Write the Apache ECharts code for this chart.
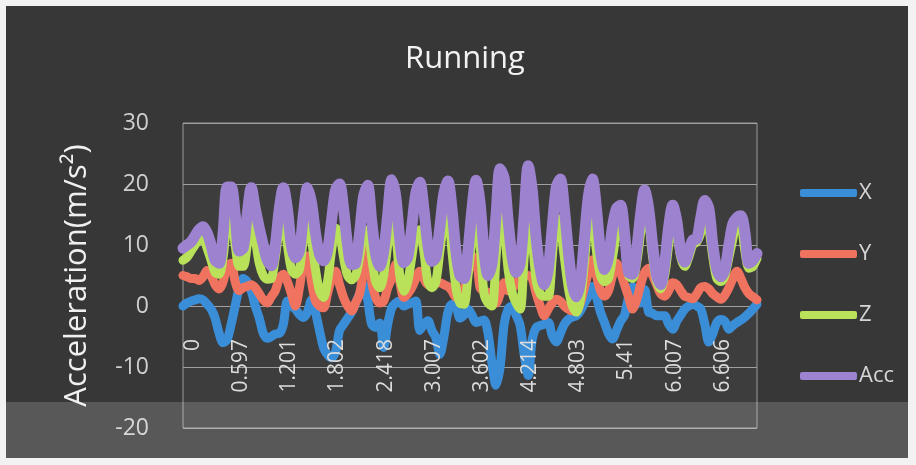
<!DOCTYPE html>
<html>
<head>
<meta charset="utf-8">
<script src="https://cdn.jsdelivr.net/npm/echarts@6/dist/echarts.min.js"></script>
<style>
html,body{margin:0;padding:0;background:#f2f2f2;}
#chart{width:916px;height:465px;}
</style>
</head>
<body>
<div id="chart"></div>
<script>
// Time stamps (s) – category axis
const times = [
  0, 0.05, 0.1, 0.149, 0.199, 0.249, 0.298, 0.348, 0.398, 0.448, 0.497, 0.547,
  0.597, 0.647, 0.698, 0.748, 0.798, 0.849, 0.899, 0.949, 1.0, 1.05, 1.1, 1.151,
  1.201, 1.251, 1.301, 1.351, 1.401, 1.451, 1.501, 1.552, 1.602, 1.652, 1.702, 1.752,
  1.802, 1.853, 1.904, 1.956, 2.007, 2.058, 2.11, 2.161, 2.212, 2.264, 2.315, 2.367,
  2.418, 2.467, 2.516, 2.565, 2.614, 2.663, 2.712, 2.762, 2.811, 2.86, 2.909, 2.958,
  3.007, 3.057, 3.106, 3.156, 3.206, 3.255, 3.305, 3.354, 3.404, 3.454, 3.503, 3.553,
  3.602, 3.653, 3.704, 3.755, 3.806, 3.857, 3.908, 3.959, 4.01, 4.061, 4.112, 4.163,
  4.214, 4.263, 4.312, 4.361, 4.41, 4.459, 4.508, 4.558, 4.607, 4.656, 4.705, 4.754,
  4.803, 4.854, 4.904, 4.955, 5.005, 5.056, 5.107, 5.157, 5.208, 5.258, 5.309, 5.359,
  5.41, 5.46, 5.509, 5.559, 5.609, 5.659, 5.708, 5.758, 5.808, 5.858, 5.907, 5.957,
  6.007, 6.057, 6.107, 6.157, 6.207, 6.257, 6.307, 6.356, 6.406, 6.456, 6.506, 6.556,
  6.606, 6.656, 6.706, 6.756, 6.806, 6.856, 6.906, 6.956, 7.006, 7.056, 7.106, 7.156
];

const seriesNames = ['X', 'Y', 'Z', 'Acc'];

const xVals = [
  0, 0.5, 0.8, 1, 1.2, 1, 0.3, -0.5, -2, -4.5, -6, -5.5,
  -3, 0, 3, 4.5, 4, 2.5, 0, -2, -4.5, -5.3, -5, -4.6,
  -4.5, -3, 0.8, 0, -0.5, -1.4, -1.9, -1, 1, -1, -4, -6.8,
  -8, -8.5, -7.5, -4, -3, -2, -1, 0.5, 2, 3.5, 1, -3,
  -3.5, -2.8, -6.8, -3, -0.3, 0.5, 0.8, 0, 0.3, 0.5, 0.8, -4,
  -3, -2.4, -4, -5.2, -7.9, -5, -1, 0.3, 0, -2, -1.5, -0.5,
  -1.5, -2.7, -2.5, -2.3, -4.5, -9.5, -13, -10, -3, -0.5, 0, -1.5,
  -3.2, -8, -11.4, -5.5, -3.5, -3.2, -3, -2.7, -4.9, -5.9, -4.5, -3,
  -2.2, -1.8, -1.6, -0.8, 0.5, 1.6, 3.2, 1.5, -1, -2.7, -4.5, -5.4,
  -4, -2.5, -1.5, 1.5, 3.2, 0.5, 0.5, 2.7, -1, -1.2, -1.6, -1.6,
  -1.6, -3, -3.8, -2.5, -1.5, -0.5, 0, 0.3, 0, -0.5, -3, -5.9,
  -4.5, -2.7, -2.2, -2.5, -3.8, -3.2, -2.7, -2.3, -1.8, -1.2, -0.5, 0.3
];

const yVals = [
  5, 4.8, 4.5, 4.5, 4.2, 4.8, 5.8, 5, 3.5, 2.8, 4, 6.5,
  7, 4, 2.5, 3, 3.2, 3.5, 3, 2, 1, 0.5, 1.5, 2.5,
  4.5, 5.2, 4, 2, 0, 3, 7, 8.2, 4, 0.8, 0, -0.3,
  2, 4.5, 5.7, 3.5, 1.4, 0, -0.8, 0.5, 2, 6, 9.5, 4,
  1.4, 0.5, 0.8, 3, 4.6, 6.8, 4, 1.4, 2, 3, 4.5, 5.7,
  4.5, 3.5, 3.6, 3.8, 3.8, 3.5, 3.2, 2.5, 1.4, 2, 3, 5.5,
  7, 8, 3, 2.5, 2.2, 1.5, 0.5, 2, 3.8, 2.5, 2.8, 3.8,
  4.5, 4.9, 5, 4.5, 2, 0, -1.6, -0.5, 0.5, 1.1, 0.8, 0,
  -0.5, -0.8, -0.8, 0.5, 3, 5.5, 7.6, 5, 2.5, 1.6, 2.5, 5,
  7, 5.5, 3.5, 1.5, -0.5, 1, 3.5, 5.5, 6.2, 5, 3.5, 2,
  1.6, 2.5, 3.8, 3.5, 2.5, 1.6, 1.4, 1.2, 2, 3, 3.2, 2.8,
  2, 1.5, 1.1, 1.8, 3, 4.5, 5.7, 4.5, 3, 2, 1.5, 1
];

const zVals = [
  7.5, 8, 9, 10, 10.8, 11, 9.5, 7.5, 5.5, 5.2, 8, 13.5,
  14, 10, 6.5, 6.5, 10, 14, 11, 7, 5, 4.4, 4.5, 8,
  12.5, 14, 10, 6, 5.2, 6, 11, 14, 11, 6, 2.5, 1.4,
  4, 9, 12.8, 12, 8, 5, 4.3, 5, 8, 12, 12.5, 8,
  4, 3, 5, 10, 15, 12, 5, 2.4, 4, 8, 12, 12.5,
  9, 4, 3, 4, 9, 13.5, 15, 9, 3, 0.5, 0.3, 5,
  11, 15, 10, 2, 0.5, 0, 8, 16, 13, 6, 2.2, 0.5,
  -0.5, 8, 14, 11, 4, 2, 1.6, 1.6, 8, 14.5, 13, 8,
  3, 0, -1, 1, 7, 13.5, 14.5, 9, 5, 4, 4.5, 8,
  12, 15.5, 11, 5, 4.5, 7, 12, 17, 14, 8, 4, 2.8,
  5, 10, 15, 12, 8, 6.5, 8, 10, 10.5, 12, 16.5, 13,
  8, 4.5, 4, 5, 8, 11, 14, 13.5, 9, 6.2, 6.5, 7.8
];

const accVals = [
  9.5, 10, 10.5, 11.5, 12.5, 13, 12, 10, 7.5, 7, 12, 19.5,
  19.5, 15, 9, 9.5, 15, 19.4, 16, 12.8, 10, 7.5, 6.6, 10,
  16, 19.4, 16, 10, 7.9, 9, 15, 19.4, 17, 12, 8.5, 7.4,
  9, 14, 19, 20, 16, 10, 6.8, 7, 12, 18, 19.8, 14,
  8.5, 6.5, 9, 15, 20.7, 18, 11, 7.1, 8, 13, 18.5, 20.3,
  16, 10, 7.3, 8, 13, 18.5, 20.5, 16, 9, 5, 4.5, 9,
  16, 20.6, 17, 9, 5, 7, 15, 22.5, 21, 14, 8, 5.5,
  7, 15, 23, 19, 11, 6, 3.5, 6, 13, 19.5, 20.8, 16,
  9, 3.5, 1.5, 4, 11, 18, 20.8, 16, 9, 6, 8, 13,
  16, 16.5, 12, 5.5, 5.2, 9, 15, 19, 16, 10, 5, 3.5,
  7, 13, 16.5, 14, 9, 7.2, 9, 10.8, 11, 14.5, 17.3, 16,
  10, 6, 4.8, 6, 10, 13.5, 14.5, 14.8, 12, 7, 7.5, 8.6
];

const yTicks = { min: -20, max: 30, interval: 10 };
const colors = ['#3a8ed8', '#f0735f', '#b9e25a', '#9d82cf'];

const chart = echarts.init(document.getElementById('chart'), null, { renderer: 'canvas' });

const mkSeries = (name, data, color, z, width) => ({
  name, type: 'line', data, smooth: 0.3, showSymbol: false, symbol: 'none',
  z,
  lineStyle: { color, width, cap: 'round', join: 'round' },
  itemStyle: { color },
  emphasis: { disabled: true }
});

chart.setOption({
  animation: false,
  backgroundColor: '#f2f2f2',
  graphic: [
    { type: 'rect', z: -100, silent: true, shape: { x: 6, y: 6, width: 902, height: 452 }, style: { fill: '#373737' } },
    { type: 'rect', z: -99, silent: true, shape: { x: 183, y: 123, width: 574, height: 305 }, style: { fill: '#3d3d3d' } },
    { type: 'rect', z: 100, silent: true, shape: { x: 6, y: 402, width: 902, height: 56 }, style: { fill: 'rgba(255,255,255,0.17)' } }
  ],
  title: {
    text: 'Running', left: 400, top: 39,
    textStyle: { color: '#f2f2f2', fontSize: 31, fontWeight: 'normal', fontFamily: 'Open Sans' }
  },
  legend: {
    orient: 'vertical', left: 795, top: 176, itemGap: 37,
    itemWidth: 57, itemHeight: 8, icon: 'roundRect',
    data: seriesNames,
    textStyle: { color: '#d6d6d6', fontSize: 22, lineHeight: 24, fontFamily: 'Open Sans', padding: [0, 0, 0, -3] }
  },
  grid: { left: 183, right: 159, top: 123, bottom: 37, outerBoundsMode: 'none', containLabel: false,
          show: true, borderColor: '#9a9a9a', borderWidth: 1, backgroundColor: 'transparent' },
  xAxis: {
    type: 'category', data: times, boundaryGap: false, offset: -122, z: 20,
    axisLine: { show: false, onZero: false }, axisTick: { show: false },
    axisLabel: { interval: 11, rotate: 90, margin: 33, verticalAlign: 'top', lineHeight: 20,
                 color: '#dcdcdc', fontSize: 21, fontFamily: 'Open Sans' },
    splitLine: { show: false }
  },
  yAxis: {
    type: 'value', min: yTicks.min, max: yTicks.max, interval: yTicks.interval,
    name: 'Acceleration(m/s²)', nameLocation: 'middle', nameGap: 90,
    nameTextStyle: { color: '#f0f0f0', fontSize: 31, fontFamily: 'Open Sans' },
    axisLine: { show: false }, axisTick: { show: false },
    axisLabel: { margin: 34, color: '#cfcfcf', fontSize: 23, fontFamily: 'Open Sans' },
    splitLine: { lineStyle: { color: '#a0a0a0', width: 1 } }
  },
  series: [
    mkSeries('X', xVals, colors[0], 2, 9),
    mkSeries('Y', yVals, colors[1], 3, 9),
    mkSeries('Z', zVals, colors[2], 4, 9),
    mkSeries('Acc', accVals, colors[3], 5, 11)
  ]
});
</script>
</body>
</html>
